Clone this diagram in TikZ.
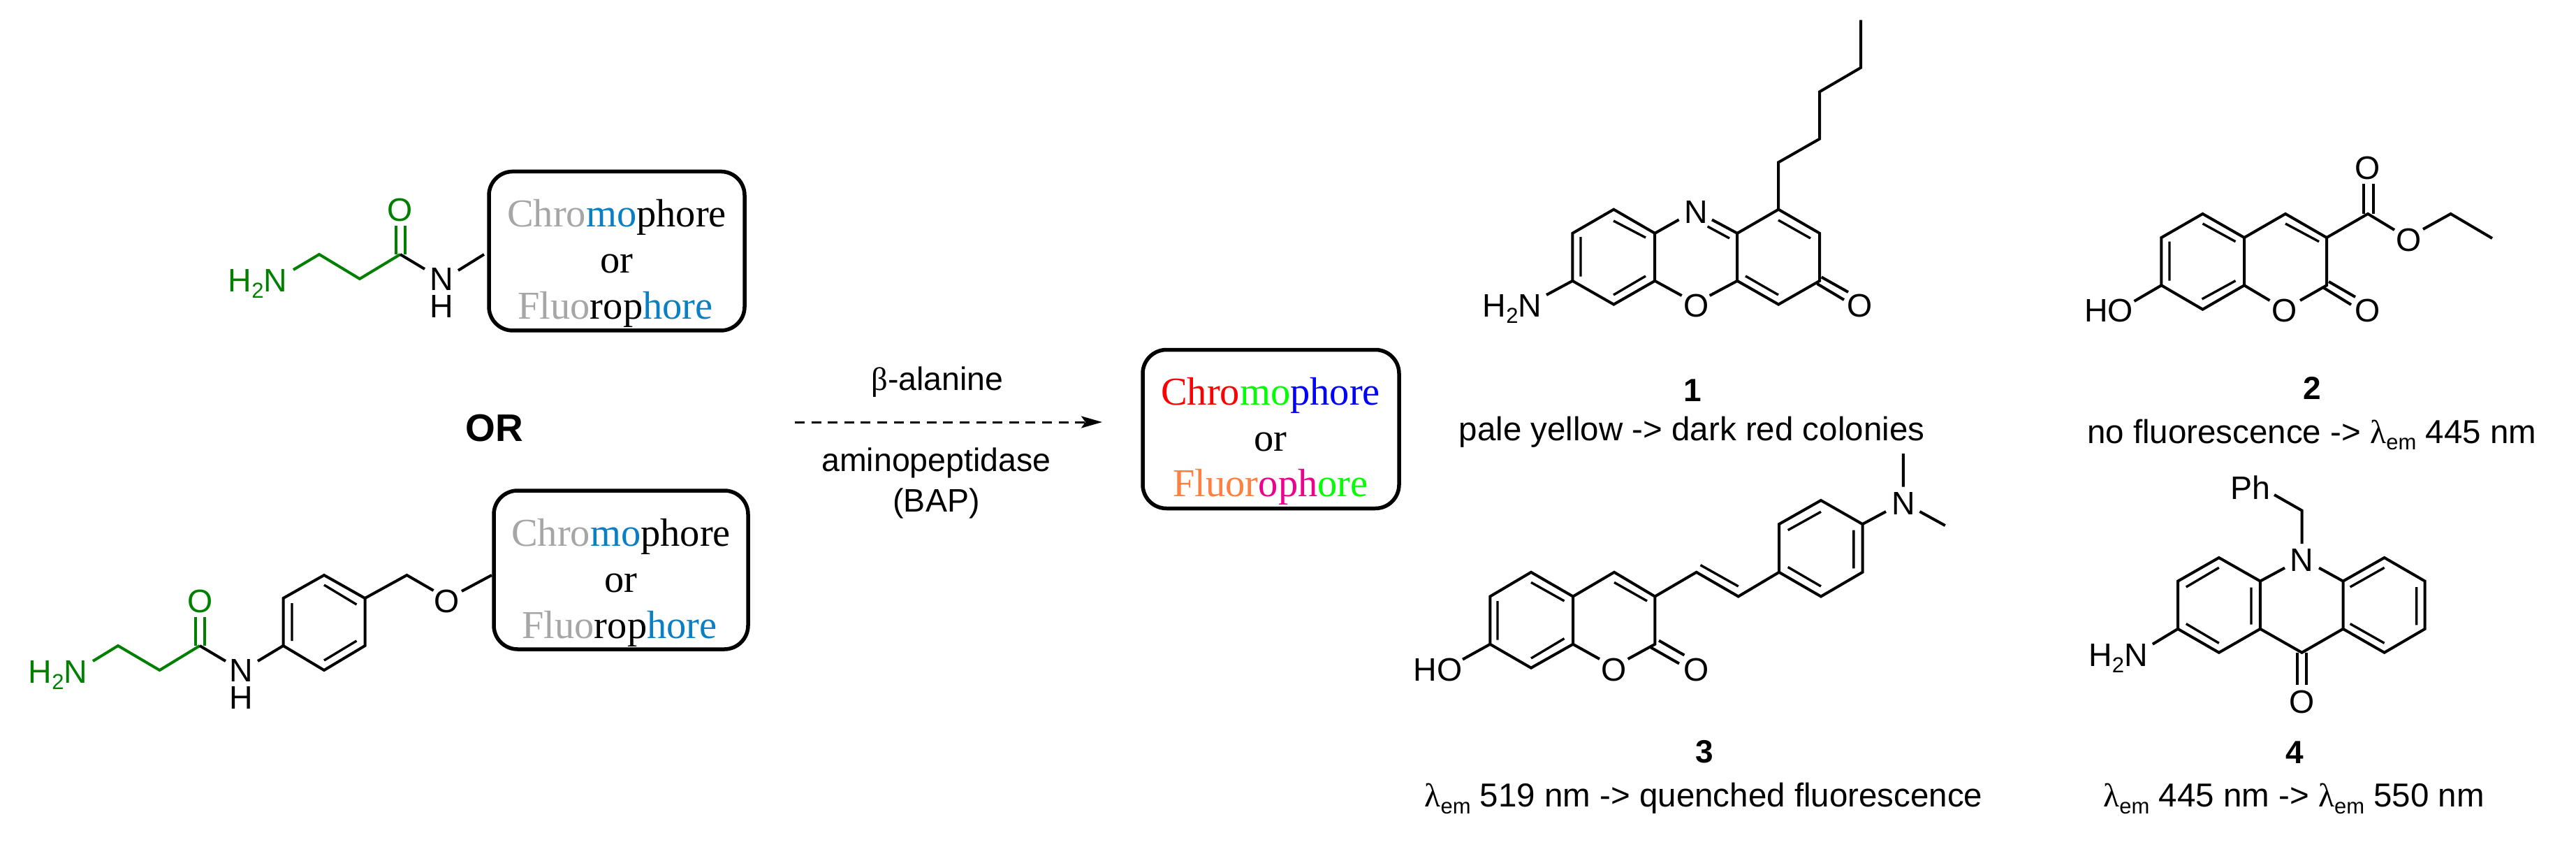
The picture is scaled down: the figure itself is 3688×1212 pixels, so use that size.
\documentclass[tikz,border=0pt]{standalone}
\usepackage{fontspec}
\usetikzlibrary{arrows.meta}
\newfontfamily\arialf{Liberation Sans}
\newfontfamily\timesf{Liberation Serif}
\definecolor{grn}{HTML}{007F00}
\definecolor{gry}{HTML}{A6A6A6}
\definecolor{blu}{HTML}{0A7FC4}
\definecolor{org}{HTML}{FF8040}
\newcommand\subs[1]{\raisebox{-0.2em}{\fontsize{31}{31}\selectfont #1}}
\newcommand\lam{{\timesf λ}}
\newcommand\lamem{\lam\subs{em}}
\tikzset{
  bond/.style={line width=4pt,line join=miter},
  gbond/.style={bond,draw=grn},
  dbl/.style={line width=3.4pt},
  atom/.style={inner sep=0pt,anchor=base,font=\arialf\fontsize{46.5}{50}\selectfont},
  gatom/.style={atom,text=grn},
  nhlabel/.style={atom,anchor=north,align=center,font=\arialf\fontsize{46.5}{39}\selectfont},
  caption/.style={inner sep=0pt,anchor=base,font=\arialf\fontsize{47.5}{52}\selectfont},
  reagent/.style={caption,font=\arialf\fontsize{46.5}{50}\selectfont},
  cnum/.style={inner sep=0pt,anchor=base,font=\arialf\bfseries\fontsize{46}{50}\selectfont},
  tnr/.style={inner sep=0pt,anchor=base,font=\timesf\fontsize{56.5}{60}\selectfont},
  rgroup/.style={draw,line width=5.5pt,rounded corners=34pt,inner sep=0pt,anchor=center},
  dasharrow/.style={line width=3pt,dash pattern=on 14pt off 9.6pt,-{Stealth[length=30pt,width=17pt,inset=6pt]}}
}
\begin{document}
\begin{tikzpicture}[x=1pt,y=-1pt]
\useasboundingbox (0,0) rectangle (3688,1212);
% ---------- top-left substrate
\node[rgroup,minimum width=366pt,minimum height=227.5pt] (boxA) at (883,359.2) {};
\node[tnr] (boxAa) at (883,324) {\textcolor{gry}{Chro}\textcolor{blu}{mo}phore};
\node[tnr] (boxAb) at (883,390) {or};
\node[tnr] (boxAc) at (881,456) {\textcolor{gry}{Fluo}rop\textcolor{blu}{hore}};
\node[gatom] (nA) at (369,417) {H\subs{2}N};
\node[gatom] (oA) at (573,316) {O};
\node[nhlabel] (nhA) at (632.6,383.7) {N\\H};
\draw[gbond] (420,386) -- (457,364) -- (515,399) -- (573,364);
\draw[gbond] (566.5,364) -- (566.5,323) (579.5,364) -- (579.5,323);
\draw[bond] (573,364) -- (608,385);
\draw[bond] (656,387) -- (693,364);
% ---------- OR
\node[cnum,font=\arialf\bfseries\fontsize{55}{57}\selectfont] (orlab) at (707.5,631.5) {OR};
% ---------- lower-left substrate
\node[rgroup,minimum width=364pt,minimum height=227pt] (boxB) at (889,815.5) {};
\node[tnr] (boxBa) at (889,781) {\textcolor{gry}{Chro}\textcolor{blu}{mo}phore};
\node[tnr] (boxBb) at (889,847) {or};
\node[tnr] (boxBc) at (887,913) {\textcolor{gry}{Fluo}rop\textcolor{blu}{hore}};
\node[gatom] (nB) at (83,977) {H\subs{2}N};
\node[gatom] (oB) at (287,876) {O};
\node[nhlabel] (nhB) at (345.5,943.7) {N\\H};
\node[atom] (oB2) at (640,876) {O};
\draw[gbond] (133,946) -- (169,924) -- (228.5,959) -- (286,924);
\draw[gbond] (280,924) -- (280,883) (293,924) -- (293,883);
\draw[bond] (286,924) -- (323,946);
\draw[bond] (369,946) -- (405.5,924);
\draw[bond] (405.5,924) -- (405.5,856) -- (464,823) -- (522.5,856) -- (522.5,924) -- (464,959) -- cycle;
\draw[dbl] (418,863) -- (418,917) (464,837) -- (510.5,865) (464,945) -- (510.5,917);
\draw[bond] (522.5,856) -- (582.5,823) -- (620.6,845);
\draw[bond] (661,846) -- (704,823);
% ---------- arrow
\coordinate (arrS) at (1138,604);
\coordinate (arrE) at (1578,604);
\draw[dasharrow] (arrS) -- (arrE);
\node[reagent] (reagA) at (1342,558) {{\timesf β}-alanine};
\node[reagent] (reagB) at (1340.5,674) {aminopeptidase};
\node[reagent] (reagC) at (1340.5,732) {(BAP)};
% ---------- product box
\node[rgroup,minimum width=367pt,minimum height=227pt] (boxP) at (1819.5,614) {};
\node[tnr] (boxPa) at (1819,579) {\textcolor{red}{Chro}\textcolor{green}{mo}\textcolor{blue}{phore}};
\node[tnr] (boxPb) at (1819,645) {or};
\node[tnr] (boxPc) at (1819,710) {\textcolor{org}{Fluor}\textcolor{magenta}{oph}\textcolor{green}{ore}};
% ---------- compound 1
\node[atom] (c1n) at (2428.2,319) {N};
\node[atom] (c1o) at (2428.2,453.5) {O};
\node[atom] (c1ok) at (2663,453.5) {O};
\node[atom] (c1nh) at (2165,453.5) {H\subs{2}N};
\draw[bond] (2251.3,333.8) -- (2251.3,401.9) -- (2310.3,435.6) -- (2369.2,401.9) -- (2369.2,333.8) -- (2310.3,299.7) -- cycle;
\draw[dbl] (2263,339) -- (2263,395.6) (2310,316) -- (2356,340) (2310,422) -- (2356,395);
\draw[bond] (2369.2,333.8) -- (2403.6,314.4) (2369.2,401.9) -- (2407.7,423) (2447.7,423) -- (2487.2,401.9) (2451,314.4) -- (2487.2,333.8);
\draw[dbl] (2444.6,324) -- (2476,341);
\draw[bond] (2487.2,401.9) -- (2487.2,333.8) -- (2546.2,299.7) -- (2605.1,333.8) -- (2605.1,401.9) -- (2546.2,435.6) -- cycle;
\draw[dbl] (2546,315) -- (2592,341) (2499,395) -- (2546,422);
\draw[bond] (2607.7,396.5) -- (2646,418) (2601.5,406) -- (2640,429);
\draw[bond] (2546.2,299.7) -- (2546.2,232.3) -- (2605.1,198.7) -- (2605.1,131.3) -- (2664.1,96.8) -- (2664.1,28.6);
\draw[bond] (2214,422) -- (2251.3,401.9);
\node[cnum] (c1lab) at (2423,574.5) {1};
\node[caption] (c1cap) at (2422,630) {pale yellow -> dark red colonies};
% ---------- compound 2
\node[atom] (c2o) at (3271,460) {O};
\node[atom] (c2ok) at (3390,460) {O};
\node[atom] (c2ho) at (3019,460) {HO};
\node[atom] (c2ou) at (3390,256) {O};
\node[atom] (c2oe) at (3449,359) {O};
\draw[bond] (3094.4,340) -- (3094.4,408.3) -- (3153.5,442.7) -- (3213,408.3) -- (3213,340) -- (3153.5,306) -- cycle;
\draw[dbl] (3106,345.7) -- (3106,401.7) (3153.5,320) -- (3200.5,345.7) (3152.5,428) -- (3200.5,401.7);
\draw[bond] (3213,340) -- (3272,306) -- (3331,340) -- (3331,408.3) -- (3293,430) (3249.5,430) -- (3213,408.3);
\draw[dbl] (3272,320) -- (3320,345.7);
\draw[bond] (3334,403) -- (3372,425) (3327,412) -- (3366,436);
\draw[bond] (3055.5,431) -- (3094.4,408.3);
\draw[bond] (3331,340) -- (3390,306) -- (3428,329) (3469,328) -- (3508.6,306) -- (3568,341);
\draw[bond] (3384,306) -- (3384,263) (3397.5,306) -- (3397.5,263);
\node[cnum] (c2lab) at (3310,571.7) {2};
\node[caption] (c2cap) at (3309.5,634) {no fluorescence -> \lamem{} 445 nm};
% ---------- compound 3
\node[atom] (c3o) at (2311,974.7) {O};
\node[atom] (c3ok) at (2428.7,974.7) {O};
\node[atom] (c3ho) at (2058.3,974.7) {HO};
\node[atom] (c3n) at (2724.8,736.7) {N};
\draw[bond] (2133.3,853.5) -- (2133.3,921.8) -- (2192,955.7) -- (2252,921.8) -- (2252,853.5) -- (2192,818.8) -- cycle;
\draw[dbl] (2144,860) -- (2144,915.5) (2192,833.4) -- (2239.5,860) (2192,942) -- (2239.5,913.7);
\draw[bond] (2252,853.5) -- (2311,818.8) -- (2369.3,853.5) -- (2369.3,921.8) -- (2330.6,943) (2290,943) -- (2252,921.8);
\draw[dbl] (2311,833.4) -- (2358,860);
\draw[bond] (2375,916.6) -- (2411.4,937.5) (2363.5,926.5) -- (2404,949.5);
\draw[bond] (2094,943.6) -- (2133.3,921.8);
\draw[bond] (2369.3,853.5) -- (2428.7,818.8) -- (2488.7,853.5) -- (2547,818.8);
\draw[dbl] (2434.5,808.6) -- (2488.7,839);
\draw[bond] (2547,818.8) -- (2547,750) -- (2607,716) -- (2666.5,750) -- (2666.5,818.8) -- (2607,853.5) -- cycle;
\draw[dbl] (2559.7,758.6) -- (2607,732.3) (2653.8,758.6) -- (2653.8,813.4) (2559.7,811.5) -- (2607,839);
\draw[bond] (2666.5,750) -- (2700,732) (2748.4,732) -- (2784.8,752) (2724.8,696.6) -- (2724.8,649);
\node[cnum] (c3lab) at (2440.3,1091.8) {3};
\node[caption] (c3cap) at (2439,1154.6) {\lamem{} 519 nm -> quenched fluorescence};
% ---------- compound 4
\node[atom] (c4n) at (3295.5,817) {N};
\node[atom] (c4ph) at (3221.5,714.8) {Ph};
\node[atom] (c4o) at (3295.5,1020.3) {O};
\node[atom] (c4nh) at (3032.5,953) {H\subs{2}N};
\draw[bond] (3118,831.6) -- (3118,899.9) -- (3176.8,933.8) -- (3235.9,899.9) -- (3235.9,831.6) -- (3176.8,798) -- cycle;
\draw[dbl] (3129.8,840) -- (3176.8,812.3) (3129.8,892.6) -- (3176.8,920.3) (3223,840.7) -- (3223,893.6);
\draw[bond] (3354.5,831.6) -- (3413.6,798) -- (3471.7,831.6) -- (3471.7,899.9) -- (3413.6,933.8) -- (3354.5,899.9) -- cycle;
\draw[dbl] (3364.6,840) -- (3413.6,812.3) (3459.6,840) -- (3459.6,894.4) (3364.6,892.6) -- (3413.6,920.3);
\draw[bond] (3235.9,831.6) -- (3271,812.6) (3320,812.6) -- (3354.5,831.6);
\draw[bond] (3235.9,899.9) -- (3295.5,933.8) -- (3354.5,899.9);
\draw[bond] (3295.5,778) -- (3295.5,730.5) -- (3256,708);
\draw[bond] (3289,933.8) -- (3289,980) (3301.5,933.8) -- (3301.5,980);
\draw[bond] (3081.8,921.8) -- (3118,899.9);
\node[cnum] (c4lab) at (3284.8,1092.6) {4};
\node[caption] (c4cap) at (3284,1154.6) {\lamem{} 445 nm -> \lamem{} 550 nm};
\end{tikzpicture}
\end{document}
